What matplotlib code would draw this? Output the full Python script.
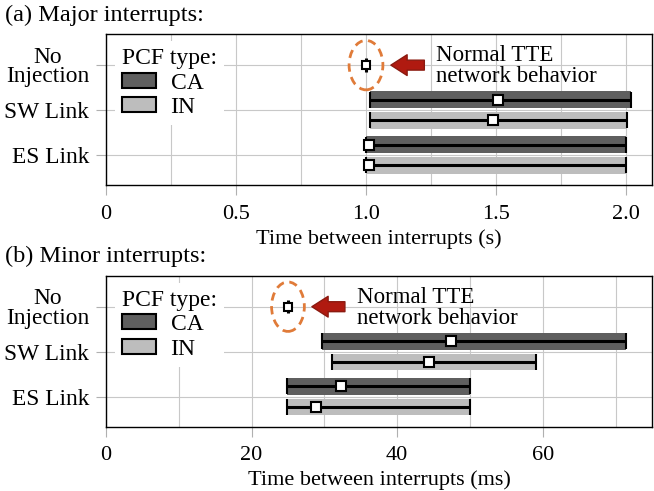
import numpy as np
import matplotlib
matplotlib.use('Agg')
import matplotlib.pyplot as plt
from matplotlib.patches import Patch, Ellipse
from matplotlib.ticker import MultipleLocator

plt.rcParams['font.family'] = ['Liberation Serif', 'DejaVu Serif']
plt.rcParams['font.size'] = 16

# 카테고리 (아래에서 위로)
categories = ['ES Link', 'SW Link', 'No\nInjection']

# (a) major interrupts, 단위 s  -> [ES Link, SW Link]
major_ca_min = [1.0, 1.014]
major_ca_max = [2.0, 2.02]
major_ca_med = [1.013, 1.507]
major_in_min = [1.0, 1.014]
major_in_max = [2.0, 2.004]
major_in_med = [1.013, 1.488]
major_normal = 1.0

# (b) minor interrupts, 단위 ms
minor_ca_min = [24.9, 29.7]
minor_ca_max = [50.0, 71.4]
minor_ca_med = [32.3, 47.4]
minor_in_min = [24.9, 31.1]
minor_in_max = [50.0, 59.1]
minor_in_med = [28.9, 44.4]
minor_normal = 25.0

ca_color = '#5f5f5f'
in_color = '#bdbdbd'
bar_h = 0.37
off = 0.23


def draw_panel(ax, ca_min, ca_max, ca_med, in_min, in_max, in_med, normal,
               xmax, major, minor, ell_w, arrow_x, text_x, xlabel, fmt):
    y = np.arange(2)
    for vals, yy, col in [((ca_min, ca_max, ca_med), y + off, ca_color),
                          ((in_min, in_max, in_med), y - off, in_color)]:
        lo, hi, med = [np.array(v) for v in vals]
        ax.barh(yy, hi - lo, left=lo, height=bar_h, color=col, zorder=2)
        ax.errorbar(med, yy, xerr=[med - lo, hi - med], fmt='s', color='black',
                    mfc='white', mec='black', ms=6.5, mew=1.5, lw=2.2,
                    capsize=5.8, capthick=2.2, zorder=3)
    # 정상 동작 (주입 없음)
    ax.errorbar([normal], [2], yerr=[[0.15], [0.15]], fmt='s', color='black',
                mfc='white', mec='black', ms=6, mew=1.5, lw=2.2, capsize=0,
                zorder=3)
    ax.add_patch(Ellipse((normal, 2), width=ell_w, height=1.1, fill=False,
                         ls=(0, (3, 2)), ec='#e07b39', lw=2, zorder=4))
    ax.annotate('', xy=(arrow_x[0], 2), xytext=(arrow_x[1], 2),
                arrowprops=dict(arrowstyle='simple,head_length=0.9,head_width=1.15,tail_width=0.55',
                                fc='#b01a10', ec='#8b1a10', mutation_scale=13))
    ax.text(text_x, 1.97, 'Normal TTE\nnetwork behavior', va='center', ha='left',
            fontsize=16.5, linespacing=1.0)

    ax.set_xlim(0, xmax)
    ax.set_ylim(-0.67, 2.69)
    ax.set_yticks([0, 1, 2])
    ax.set_yticklabels(categories, multialignment='center', fontsize=16.8,
                       linespacing=0.9)
    ax.xaxis.set_major_locator(MultipleLocator(major))
    ax.xaxis.set_minor_locator(MultipleLocator(minor))
    ax.xaxis.set_major_formatter(fmt)
    ax.grid(True, which='both', axis='x', color='#c8c8c8', lw=0.8)
    ax.grid(True, which='major', axis='y', color='#c8c8c8', lw=0.8)
    ax.set_axisbelow(True)
    ax.tick_params(axis='both', which='major', color='#b0b0b0', length=7, pad=5)
    ax.tick_params(axis='x', which='major', pad=7)
    ax.tick_params(axis='x', which='minor', length=0)
    ax.set_xlabel(xlabel, labelpad=4)
    for s in ax.spines.values():
        s.set_linewidth(1.0)

    handles = [Patch(facecolor=ca_color, edgecolor='black', lw=1.5, label='CA'),
               Patch(facecolor=in_color, edgecolor='black', lw=1.5, label='IN')]
    leg = ax.legend(handles=handles, title='PCF type:', loc='upper left',
                    bbox_to_anchor=(0.008, 0.985), prop={'size': 17},
                    frameon=True, framealpha=1, edgecolor='none', fancybox=False,
                    handlelength=1.45, handleheight=0.6, labelspacing=0.15,
                    handletextpad=0.6, borderpad=0.3, borderaxespad=0.2,
                    alignment='left', title_fontsize=17)
    leg.set_zorder(5)


fig = plt.figure(figsize=(6.54, 4.91), dpi=100)
ax1 = fig.add_axes([0.162, 0.623, 0.835, 0.3075])
ax2 = fig.add_axes([0.162, 0.131, 0.835, 0.3075])

draw_panel(ax1, major_ca_min, major_ca_max, major_ca_med, major_in_min,
           major_in_max, major_in_med, major_normal, 2.1, 0.5, 0.25, 0.13,
           (1.085, 1.235), 1.27, 'Time between interrupts (s)',
           plt.FuncFormatter(lambda v, p: '0' if v == 0 else f'{v:.1f}'))
draw_panel(ax2, minor_ca_min, minor_ca_max, minor_ca_med, minor_in_min,
           minor_in_max, minor_in_med, minor_normal, 75, 20, 10, 4.5,
           (27.9, 33.2), 34.5, 'Time between interrupts (ms)',
           plt.FuncFormatter(lambda v, p: f'{v:.0f}'))

fig.text(5 / 654, 1 - 15 / 491, '(a) Major interrupts:', ha='left', va='center', fontsize=17.5)
fig.text(5 / 654, 1 - 256 / 491, '(b) Minor interrupts:', ha='left', va='center', fontsize=17.5)

fig.savefig('out.png', dpi=100)
